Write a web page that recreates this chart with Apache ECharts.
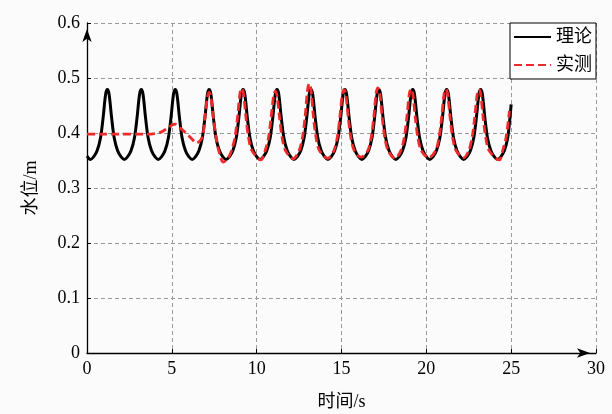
<!DOCTYPE html>
<html>
<head>
<meta charset="utf-8">
<title>水位</title>
<script src="https://cdn.jsdelivr.net/npm/echarts@6.0.0/dist/echarts.min.js"></script>
<style>
  html, body { margin: 0; padding: 0; background: #fbfbfb; }
  #chart { width: 612px; height: 414px; }
</style>
</head>
<body>
<div id="chart"></div>
<script>
// 理论水位 [时间 s, 水位 m]
const theory = [
  [0, 0.358], [0.2, 0.352],
  [0.4, 0.357], [0.6, 0.368], [0.8, 0.392], [0.95, 0.428], [1.1, 0.471], [1.2, 0.479], [1.3, 0.471], [1.45, 0.428], [1.6, 0.392], [1.8, 0.368], [2.0, 0.357], [2.2, 0.352],
  [2.4, 0.357], [2.6, 0.368], [2.8, 0.392], [2.95, 0.428], [3.1, 0.471], [3.2, 0.479], [3.3, 0.471], [3.45, 0.428], [3.6, 0.392], [3.8, 0.368], [4.0, 0.357], [4.2, 0.352],
  [4.4, 0.357], [4.6, 0.368], [4.8, 0.392], [4.95, 0.428], [5.1, 0.471], [5.2, 0.479], [5.3, 0.471], [5.45, 0.428], [5.6, 0.392], [5.8, 0.368], [6.0, 0.357], [6.2, 0.352],
  [6.4, 0.357], [6.6, 0.368], [6.8, 0.392], [6.95, 0.428], [7.1, 0.471], [7.2, 0.479], [7.3, 0.471], [7.45, 0.428], [7.6, 0.392], [7.8, 0.368], [8.0, 0.357], [8.2, 0.352],
  [8.4, 0.357], [8.6, 0.368], [8.8, 0.392], [8.95, 0.428], [9.1, 0.471], [9.2, 0.479], [9.3, 0.471], [9.45, 0.428], [9.6, 0.392], [9.8, 0.368], [10.0, 0.357], [10.2, 0.352],
  [10.4, 0.357], [10.6, 0.368], [10.8, 0.392], [10.95, 0.428], [11.1, 0.471], [11.2, 0.479], [11.3, 0.471], [11.45, 0.428], [11.6, 0.392], [11.8, 0.368], [12.0, 0.357], [12.2, 0.352],
  [12.4, 0.357], [12.6, 0.368], [12.8, 0.392], [12.95, 0.428], [13.1, 0.471], [13.2, 0.479], [13.3, 0.471], [13.45, 0.428], [13.6, 0.392], [13.8, 0.368], [14.0, 0.357], [14.2, 0.352],
  [14.4, 0.357], [14.6, 0.368], [14.8, 0.392], [14.95, 0.428], [15.1, 0.471], [15.2, 0.479], [15.3, 0.471], [15.45, 0.428], [15.6, 0.392], [15.8, 0.368], [16.0, 0.357], [16.2, 0.352],
  [16.4, 0.357], [16.6, 0.368], [16.8, 0.392], [16.95, 0.428], [17.1, 0.471], [17.2, 0.479], [17.3, 0.471], [17.45, 0.428], [17.6, 0.392], [17.8, 0.368], [18.0, 0.357], [18.2, 0.352],
  [18.4, 0.357], [18.6, 0.368], [18.8, 0.392], [18.95, 0.428], [19.1, 0.471], [19.2, 0.479], [19.3, 0.471], [19.45, 0.428], [19.6, 0.392], [19.8, 0.368], [20.0, 0.357], [20.2, 0.352],
  [20.4, 0.357], [20.6, 0.368], [20.8, 0.392], [20.95, 0.428], [21.1, 0.471], [21.2, 0.479], [21.3, 0.471], [21.45, 0.428], [21.6, 0.392], [21.8, 0.368], [22.0, 0.357], [22.2, 0.352],
  [22.4, 0.357], [22.6, 0.368], [22.8, 0.392], [22.95, 0.428], [23.1, 0.471], [23.2, 0.479], [23.3, 0.471], [23.45, 0.428], [23.6, 0.392], [23.8, 0.368], [24.0, 0.357], [24.2, 0.352],
  [24.4, 0.357], [24.6, 0.368], [24.8, 0.392], [24.92, 0.425], [25.0, 0.452]
]

// 实测水位 [时间 s, 水位 m]
const measured = [
  [0, 0.398], [0.5, 0.398], [1.0, 0.398], [1.5, 0.398], [2.0, 0.398], [2.5, 0.398],
  [3.0, 0.398], [3.5, 0.398], [4.0, 0.399], [4.4, 0.402], [4.7, 0.408], [5.0, 0.414],
  [5.2, 0.416], [5.5, 0.409], [5.8, 0.401], [6.1, 0.392], [6.45, 0.382],
  [6.8, 0.393], [6.95, 0.428], [7.1, 0.466], [7.2, 0.474], [7.3, 0.466], [7.45, 0.428], [7.6, 0.393], [7.8, 0.364],
  [8.03, 0.347],
  [8.32, 0.355], [8.52, 0.368], [8.72, 0.392], [8.87, 0.428], [9.02, 0.473], [9.12, 0.481], [9.22, 0.473], [9.37, 0.428], [9.52, 0.392], [9.72, 0.368],
  [10.25, 0.351],
  [10.5, 0.368], [10.7, 0.392], [10.85, 0.428], [11.0, 0.468], [11.1, 0.476], [11.2, 0.468], [11.35, 0.428], [11.5, 0.392], [11.7, 0.368],
  [12.15, 0.353],
  [12.5, 0.368], [12.7, 0.392], [12.85, 0.428], [13.0, 0.479], [13.1, 0.49], [13.2, 0.479], [13.35, 0.428], [13.5, 0.392], [13.7, 0.368],
  [14.2, 0.354],
  [14.55, 0.368], [14.75, 0.392], [14.9, 0.428], [15.05, 0.471], [15.15, 0.479], [15.25, 0.471], [15.4, 0.428], [15.55, 0.392], [15.75, 0.368],
  [16.15, 0.356],
  [16.55, 0.368], [16.75, 0.392], [16.9, 0.428], [17.05, 0.474], [17.15, 0.482], [17.25, 0.474], [17.4, 0.428], [17.55, 0.392], [17.75, 0.368],
  [18.15, 0.354],
  [18.5, 0.368], [18.7, 0.392], [18.85, 0.428], [19.0, 0.472], [19.1, 0.48], [19.2, 0.472], [19.35, 0.428], [19.5, 0.392], [19.7, 0.368],
  [20.15, 0.355],
  [20.55, 0.368], [20.75, 0.392], [20.9, 0.428], [21.05, 0.472], [21.15, 0.48], [21.25, 0.472], [21.4, 0.428], [21.55, 0.392], [21.75, 0.368],
  [22.2, 0.355],
  [22.5, 0.368], [22.7, 0.392], [22.85, 0.428], [23.0, 0.471], [23.1, 0.479], [23.2, 0.471], [23.35, 0.428], [23.5, 0.392], [23.7, 0.368],
  [24.3, 0.351],
  [24.5, 0.368], [24.7, 0.392], [24.9, 0.44]
]

const seriesNames = ['理论', '实测']

const serif = "'Liberation Serif', 'Noto Sans CJK SC'"

const myChart = echarts.init(document.getElementById('chart'), null, { renderer: 'canvas' })

const axisLineStyle = {
  onZero: false,
  symbol: ['none', 'arrow'],
  symbolSize: [7, 13],
  symbolOffset: [0, -6],
  lineStyle: { color: '#000', width: 1.3 }
}

const option = {
  backgroundColor: '#fbfbfb',
  animation: false,
  grid: {
    left: 87,
    right: 16,
    top: 23,
    bottom: 61,
    containLabel: false,
    outerBoundsMode: 'none'
  },
  legend: {
    data: seriesNames,
    orient: 'vertical',
    right: 16,
    top: 23,
    backgroundColor: '#fff',
    borderColor: '#000',
    borderWidth: 1,
    borderRadius: 0,
    padding: [5, 4, 5, 3],
    itemWidth: 37,
    itemHeight: 14,
    itemGap: 10,
    // 只显示线, 不要圆点
    itemStyle: { opacity: 0 },
    textStyle: { fontFamily: serif, fontSize: 18, color: '#000' }
  },
  xAxis: {
    type: 'value',
    min: 0,
    max: 30,
    interval: 5,
    name: '时间/s',
    nameLocation: 'middle',
    nameGap: 40,
    nameTextStyle: { fontFamily: serif, fontSize: 18, color: '#000' },
    axisLine: axisLineStyle,
    axisTick: { show: true, inside: true, length: 4, lineStyle: { color: '#000' } },
    axisLabel: { fontFamily: serif, fontSize: 18, color: '#000', margin: 7 },
    splitLine: { show: true, lineStyle: { color: '#999', type: [4, 3], width: 1 } }
  },
  yAxis: {
    type: 'value',
    min: 0,
    max: 0.6,
    interval: 0.1,
    name: '水位/m',
    nameLocation: 'middle',
    nameGap: 47,
    nameRotate: 90,
    nameTextStyle: { fontFamily: serif, fontSize: 18, color: '#000' },
    axisLine: Object.assign({ show: true }, axisLineStyle),
    axisTick: { show: true, inside: true, length: 4, lineStyle: { color: '#000' } },
    axisLabel: { fontFamily: serif, fontSize: 18, color: '#000', margin: 7 },
    splitLine: { show: true, lineStyle: { color: '#999', type: [4, 3], width: 1 } }
  },
  series: [
    {
      name: seriesNames[0],
      type: 'line',
      data: theory,
      showSymbol: false,
      symbol: 'none',
      smooth: 0.3,
      lineStyle: { color: '#000', width: 3 },
      itemStyle: { color: '#000' }
    },
    {
      name: seriesNames[1],
      type: 'line',
      data: measured,
      showSymbol: false,
      symbol: 'none',
      smooth: 0.3,
      lineStyle: { color: '#ee2a2a', width: 2.8, type: [8, 4] },
      itemStyle: { color: '#ee2a2a' }
    }
  ]
}

myChart.setOption(option)
</script>
</body>
</html>
